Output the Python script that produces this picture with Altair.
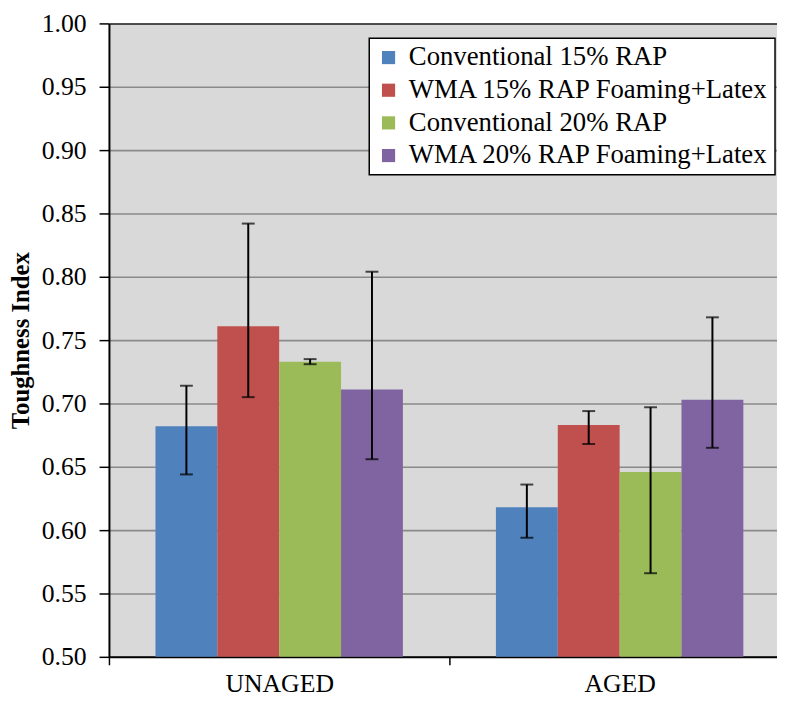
import altair as alt
import pandas as pd

groups = ["UNAGED", "AGED"]
series = [
    "Conventional 15% RAP",
    "WMA 15% RAP Foaming+Latex",
    "Conventional 20% RAP",
    "WMA 20% RAP Foaming+Latex",
]
colors = ["#4F81BD", "#C0504D", "#9BBB59", "#8064A2"]

unaged_mean = [0.682, 0.761, 0.733, 0.711]
unaged_low = [0.644, 0.705, 0.731, 0.656]
unaged_high = [0.714, 0.842, 0.735, 0.804]

aged_mean = [0.618, 0.683, 0.646, 0.703]
aged_low = [0.594, 0.668, 0.566, 0.665]
aged_high = [0.636, 0.694, 0.697, 0.768]

y_ticks = [0.50, 0.55, 0.60, 0.65, 0.70, 0.75, 0.80, 0.85, 0.90, 0.95, 1.00]

rows = []
for g, means, lows, highs in [
    ("UNAGED", unaged_mean, unaged_low, unaged_high),
    ("AGED", aged_mean, aged_low, aged_high),
]:
    for s, m, lo, hi in zip(series, means, lows, highs):
        rows.append({"group": g, "series": s, "mean": m, "low": lo, "high": hi})
df = pd.DataFrame(rows)

FONT = "Liberation Serif"

x_enc = alt.X(
    "group:N",
    sort=groups,
    scale=alt.Scale(paddingInner=0, paddingOuter=0, range=[0, 688]),
    axis=alt.Axis(
        title=None,
        labelAngle=0,
        tickBand="extent",
        tickSize=8,
        tickWidth=1.5,
        labelPadding=6,
    ),
)
xoff_enc = alt.XOffset(
    "series:N", sort=series, scale=alt.Scale(paddingInner=0, paddingOuter=0.752)
)
y_scale = alt.Scale(domain=[0.5, 1.0], zero=False, nice=False)

bars = (
    alt.Chart(df)
    .mark_bar()
    .encode(
        x=x_enc,
        xOffset=xoff_enc,
        y=alt.Y(
            "mean:Q",
            scale=y_scale,
            axis=alt.Axis(
                values=y_ticks,
                format=".2f",
                title="Toughness Index",
                titleFont=FONT,
                titleFontSize=25,
                titleFontWeight="bold",
                titlePadding=8,
                tickSize=10,
                tickWidth=1.5,
                labelPadding=13,
                grid=True,
                gridColor={
                    "condition": {"test": "datum.value >= 0.999", "value": "#1a1a1a"},
                    "value": "#8a8a8a",
                },
                gridWidth=1.6,
            ),
        ),
        y2=alt.datum(0.5),
        color=alt.Color(
            "series:N",
            sort=series,
            scale=alt.Scale(domain=series, range=colors),
            legend=alt.Legend(
                title=None,
                orient="none",
                legendX=263,
                legendY=15,
                fillColor="white",
                strokeColor="black",
                padding=6,
                symbolType="square",
                symbolSize=177,
                symbolStrokeWidth=0,
                labelFont=FONT,
                labelFontSize=27,
                labelColor="black",
                labelOffset=7,
                labelLimit=0,
                rowPadding=5,
            ),
        ),
    )
)

rules = (
    alt.Chart(df)
    .mark_rule(color="black", strokeWidth=2)
    .encode(x=x_enc, xOffset=xoff_enc, y=alt.Y("low:Q", scale=y_scale), y2="high:Q")
)
caps_low = (
    alt.Chart(df)
    .mark_tick(color="black", size=13, thickness=2)
    .encode(x=x_enc, xOffset=xoff_enc, y=alt.Y("low:Q", scale=y_scale))
)
caps_high = (
    alt.Chart(df)
    .mark_tick(color="black", size=13, thickness=2)
    .encode(x=x_enc, xOffset=xoff_enc, y=alt.Y("high:Q", scale=y_scale))
)

chart = (
    alt.layer(bars, rules, caps_low, caps_high)
    .properties(
        width=675,
        height=640,
        background="white",
        autosize=alt.AutoSizeParams(type="none"),
        padding={"left": 102, "top": 12, "right": 0, "bottom": 37},
    )
    .configure_view(fill="#D9D9D9", stroke=None)
    .configure_axis(
        labelFont=FONT,
        labelFontSize=26,
        labelColor="black",
        domainColor="black",
        domainWidth=2,
        tickColor="black",
        titleColor="black",
    )
    .configure_legend(strokeWidth=1.5)
)

chart.save("out.html", embed_options={"renderer": "svg", "actions": False})
